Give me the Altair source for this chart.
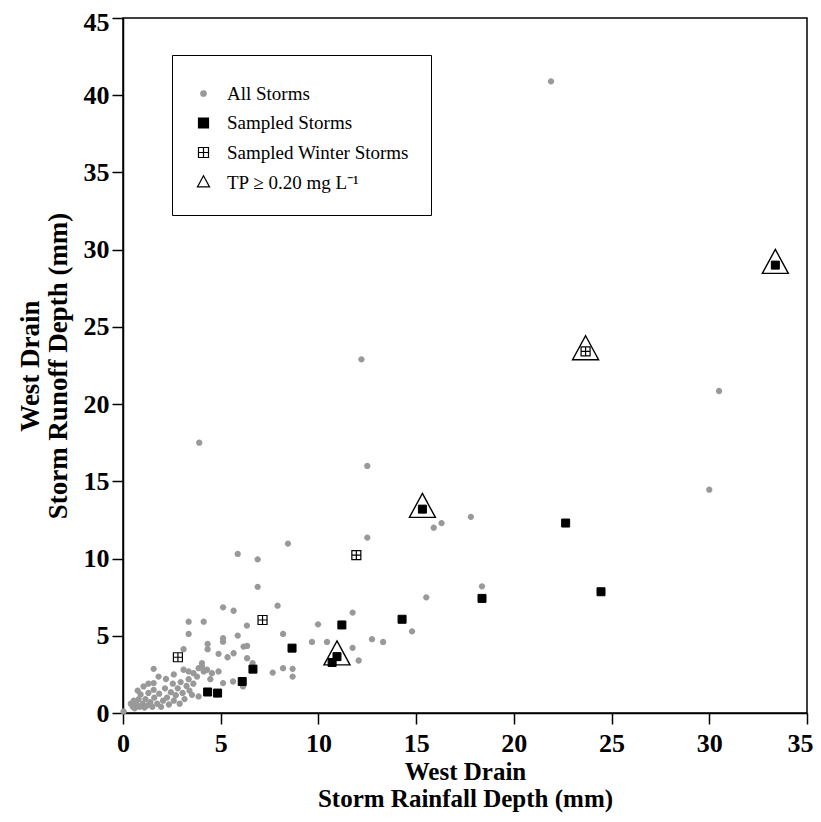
import altair as alt
import pandas as pd

# ---- data ----
series_names = ["All Storms", "Sampled Storms", "Sampled Winter Storms", "TP \u2265 0.20 mg L\u207b\u00b9"]

all_x = [21.9, 12.2, 3.9, 30.5, 30.0, 12.5, 17.8, 16.3, 15.9, 12.5, 8.44, 5.87, 6.89, 18.37, 6.89,
         15.52, 7.91, 5.12, 5.66, 11.75, 3.36, 4.13, 9.98, 6.34, 14.79, 3.36, 8.19, 5.87, 5.12, 12.74,
         5.12, 9.67, 10.44, 13.31, 4.33, 6.35, 6.17, 11.75, 3.1, 4.33, 5.66, 4.89, 5.35, 6.35, 12.06,
         6.63, 4.04, 4.04, 8.19, 3.87, 1.57, 8.68, 3.1, 4.3, 3.36, 4.13, 4.89, 7.66, 3.61, 4.55,
         1.82, 3.79, 8.68, 3.36, 4.47, 5.63, 1.57, 5.12, 6.14, 1.05,
         0.03, 0.4, 0.5, 0.55, 0.6, 0.7, 0.8, 0.85, 0.9, 1.0, 1.1, 1.15, 1.25, 1.3, 1.4, 1.5, 1.57,
         1.6, 1.75, 1.85, 1.95, 2.05, 2.15, 2.25, 2.35, 2.45, 2.55, 2.6, 2.7, 2.8, 2.9, 2.95, 3.05,
         3.15, 3.25, 3.4, 3.53, 3.87, 3.6, 2.2, 2.6, 1.3, 0.75]
all_y = [40.9, 22.9, 17.5, 20.85, 14.46, 16.0, 12.7, 12.3, 12.0, 11.36, 10.97, 10.3, 9.95, 8.2, 8.17,
         7.49, 6.95, 6.84, 6.62, 6.5, 5.91, 5.91, 5.74, 5.66, 5.29, 5.12, 5.12, 5.01, 4.84, 4.78,
         4.62, 4.6, 4.6, 4.6, 4.47, 4.34, 4.3, 4.22, 4.13, 4.13, 3.87, 3.83, 3.61, 3.55, 3.4,
         3.23, 3.23, 3.01, 2.9, 2.9, 2.86, 2.86, 2.8, 2.8, 2.69, 2.69, 2.69, 2.62, 2.58, 2.58,
         2.36, 2.36, 2.36, 2.19, 2.19, 2.04, 1.94, 1.94, 1.72, 1.72,
         0.1, 0.6, 0.4, 0.8, 0.3, 0.55, 0.9, 0.4, 1.2, 0.6, 0.35, 0.9, 0.5, 1.3, 0.7, 0.4, 1.5,
         1.0, 0.6, 1.25, 0.4, 0.8, 1.6, 1.0, 0.55, 1.35, 1.9, 0.8, 1.15, 1.6, 0.6, 2.0, 1.3,
         0.9, 1.75, 1.45, 1.18, 1.07, 1.9, 2.2, 2.5, 1.9, 1.45]

sampled_x = [33.38, 15.32, 10.95, 10.7, 22.65, 24.46, 18.37, 14.28, 11.2, 8.65, 6.65, 6.1, 4.33, 4.84]
sampled_y = [29.0, 13.2, 3.65, 3.27, 12.3, 7.85, 7.42, 6.07, 5.7, 4.2, 2.84, 2.04, 1.36, 1.29]

winter_x = [23.67, 11.94, 7.14, 2.81]
winter_y = [23.41, 10.22, 6.02, 3.61]

tp_x = [33.38, 23.67, 15.32, 10.95]
tp_y = [29.0, 23.41, 13.2, 3.65]

x_ticks = [0, 5, 10, 15, 20, 25, 30, 35]
y_ticks = [0, 5, 10, 15, 20, 25, 30, 35, 40, 45]

rows = []
for xs, ys, name in [(all_x, all_y, series_names[0]), (sampled_x, sampled_y, series_names[1]),
                     (winter_x, winter_y, series_names[2]), (tp_x, tp_y, series_names[3])]:
    for a, b in zip(xs, ys):
        rows.append({"rain": a, "runoff": b, "series": name})
df = pd.DataFrame(rows)

FONT = "Liberation Serif"

circle_path = "M0.55,0A0.55,0.55 0 1,1 -0.55,0A0.55,0.55 0 1,1 0.55,0Z"
winter_path = "M-1,-1H1V1H-1ZM0,-1V1M-1,0H1"
tri_path = "M0,-1.46L1.21,0.77L-1.21,0.77Z"

shape_scale = alt.Scale(domain=series_names, range=[circle_path, "square", winter_path, tri_path])
fill_scale = alt.Scale(domain=series_names, range=["#999999", "#000000", "#ffffff", "transparent"])
stroke_scale = alt.Scale(domain=series_names, range=["#999999", "#000000", "#000000", "#000000"])

legend = alt.Legend(title=" ", titleFontSize=5, titlePadding=2, orient="none", legendX=49, legendY=37,
                    strokeColor="black", fillColor="white", padding=22, labelFont=FONT,
                    labelFontSize=19, labelColor="black", symbolSize=100, symbolStrokeWidth=1.2,
                    rowPadding=9.5, labelOffset=14, labelLimit=400)

x_axis = alt.Axis(
    values=x_ticks, title=["West Drain", "Storm Rainfall Depth (mm)"], labelFlush=False,
    labelAlign={"condition": {"test": "datum.value == 35", "value": "right"}, "value": "center"},
    labelOffset={"condition": {"test": "datum.value == 35", "value": 6}, "value": 0},
)
y_axis = alt.Axis(
    values=y_ticks, title=["West Drain", "Storm Runoff Depth (mm)"],
    labelOffset={"condition": {"test": "datum.value == 45", "value": 4}, "value": 0},
)

base = alt.Chart(df).encode(
    x=alt.X("rain:Q", scale=alt.Scale(domain=[0, 35], nice=False, zero=False), axis=x_axis),
    y=alt.Y("runoff:Q", scale=alt.Scale(domain=[0, 45], nice=False, zero=False), axis=y_axis),
    shape=alt.Shape("series:N", scale=shape_scale, legend=legend),
    fill=alt.Fill("series:N", scale=fill_scale, legend=legend),
    stroke=alt.Stroke("series:N", scale=stroke_scale, legend=legend),
)

gray = base.transform_filter(alt.datum.series == series_names[0]).mark_point(size=131, opacity=1, strokeWidth=0)
black = base.transform_filter(alt.datum.series == series_names[1]).mark_point(size=64, opacity=1, strokeWidth=1)
winter = base.transform_filter(alt.datum.series == series_names[2]).mark_point(size=81, opacity=1, strokeWidth=1.2)
tri = base.transform_filter(alt.datum.series == series_names[3]).mark_point(size=462, opacity=1, strokeWidth=1.4)

chart = alt.layer(gray, black, winter, tri).properties(
    width=684, height=695,
    autosize=alt.AutoSizeParams(type="none"),
    padding={"left": 115, "top": 10, "right": 6, "bottom": 101},
).configure_view(stroke="black", strokeWidth=1.5).configure_axis(
    grid=False, domainColor="black", domainWidth=1.5, tickColor="black", tickWidth=1.5, tickSize=11,
    labelFont=FONT, labelFontWeight="bold", labelFontSize=26, labelColor="black", labelPadding=3,
    titleFont=FONT, titleFontWeight="bold", titleColor="black",
).configure_axisX(labelPadding=6, titlePadding=3, titleFontSize=25, titleLineHeight=27
).configure_axisY(titlePadding=11, titleFontSize=27, titleLineHeight=28)

chart.save("out.html", embed_options={"renderer": "svg", "actions": False})
